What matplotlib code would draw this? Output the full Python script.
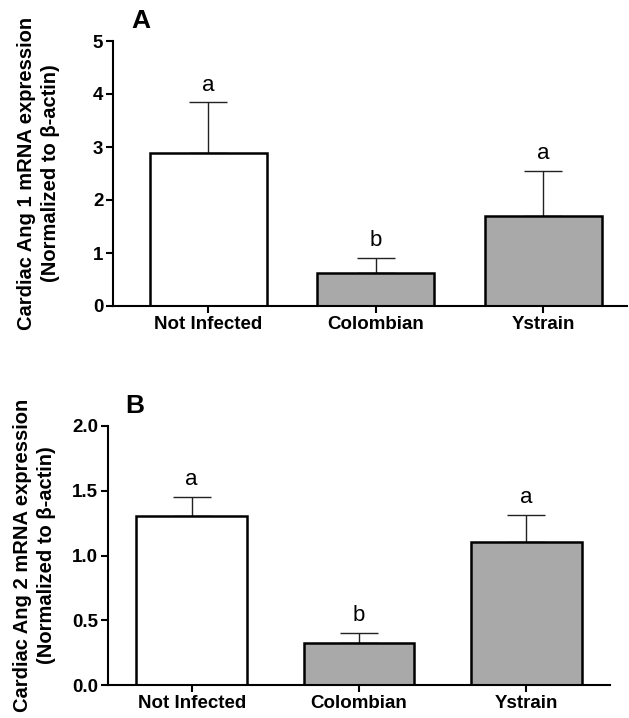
import matplotlib.pyplot as plt

plt.rcParams["font.family"] = ["Liberation Sans", "DejaVu Sans"]

groups = ["Not Infected", "Colombian", "Ystrain"]
bar_colors = ["white", "#a9a9a9", "#a9a9a9"]

# panel A: Ang 1
ang1_mean = [2.88, 0.62, 1.69]
ang1_sem = [0.96, 0.28, 0.86]
ang1_letters = ["a", "b", "a"]

# panel B: Ang 2
ang2_mean = [1.305, 0.325, 1.105]
ang2_sem = [0.145, 0.08, 0.205]
ang2_letters = ["a", "b", "a"]


def draw_panel(ax, means, sems, letters, ylim, yticks, yticklabels, ylabel, tag, xlim, width):
    x = list(range(len(groups)))
    ax.bar(x, means, width, color=bar_colors, edgecolor="black", linewidth=1.8, zorder=2)
    ax.errorbar(x, means, yerr=[[0] * len(sems), sems], fmt="none",
                ecolor="#222222", elinewidth=1.0, capsize=14, capthick=1.0, zorder=1)
    for xi, m, s, lab in zip(x, means, sems, letters):
        ax.annotate(lab, (xi, m + s), xytext=(0, 5), textcoords="offset points",
                    ha="center", va="bottom", fontsize=16)
    ax.set_xlim(*xlim)
    ax.set_ylim(*ylim)
    ax.set_xticks(x)
    ax.set_xticklabels(groups, fontsize=13.5, fontweight="bold")
    ax.set_yticks(yticks)
    ax.set_yticklabels(yticklabels, fontsize=13.5, fontweight="bold")
    ax.set_ylabel(ylabel, fontsize=14.5, fontweight="bold", linespacing=1.35)
    ax.yaxis.set_label_coords(-0.103, 0.5)
    for side in ["top", "right"]:
        ax.spines[side].set_visible(False)
    for side in ["left", "bottom"]:
        ax.spines[side].set_linewidth(1.5)
    ax.tick_params(axis="both", direction="out", length=5, width=1.5, pad=2)
    ax.text(0.035, 1.03, tag, transform=ax.transAxes, fontsize=19,
            fontweight="bold", ha="left", va="bottom")


fig = plt.figure(figsize=(6.29, 7.18), dpi=100)

ax_a = fig.add_axes([113 / 629, 1 - 306 / 718, 514 / 629, 265 / 718])
draw_panel(ax_a, ang1_mean, ang1_sem, ang1_letters,
           (0, 5), [0, 1, 2, 3, 4, 5], ["0", "1", "2", "3", "4", "5"],
           "Cardiac Ang 1 mRNA expression\n(Normalized to \u03b2-actin)", "A",
           (-0.57, 2.5), 0.70)

ax_b = fig.add_axes([108 / 629, 1 - 685 / 718, 502 / 629, 259 / 718])
draw_panel(ax_b, ang2_mean, ang2_sem, ang2_letters,
           (0, 2.0), [0, 0.5, 1.0, 1.5, 2.0], ["0.0", "0.5", "1.0", "1.5", "2.0"],
           "Cardiac Ang 2 mRNA expression\n(Normalized to \u03b2-actin)", "B",
           (-0.5, 2.5), 0.66)

fig.savefig("out.png", dpi=100)
